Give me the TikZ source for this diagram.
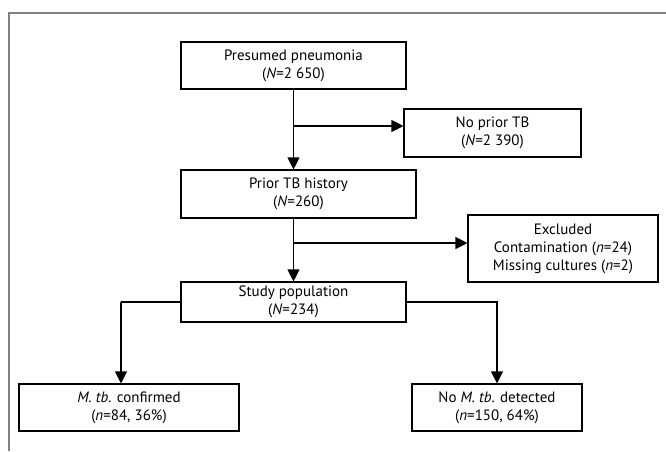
\documentclass[tikz,border=0pt]{standalone}
\usepackage{fontspec}
\setmainfont{PT Sans}
\usetikzlibrary{arrows.meta}

\begin{document}
\begin{tikzpicture}[
   x=1pt,y=-1pt,
   font=\fontsize{15}{18}\selectfont,
   box/.style={draw,line width=1.1pt,align=center,inner sep=0pt},
   link/.style={line width=1.1pt},
   arr/.style={link,-{Triangle[length=12pt,width=12pt]}}]
\useasboundingbox (0,0) rectangle (666,451);
\draw[gray,line width=1.6pt] (666,13) -- (9,13) -- (9,451);
% main column
\node[box,minimum width=225pt,minimum height=47pt] (pres) at (293.5,65.5)
   {Presumed pneumonia\\(\textit{N}=2 650)};
\node[box,minimum width=235pt,minimum height=48pt] (prior) at (298.5,194)
   {Prior TB history\\(\textit{N}=260)};
\node[box,minimum width=225pt,minimum height=40pt] (study) at (293.5,302)
   {Study population\\(\textit{N}=234)};
% side boxes
\node[box,minimum width=177pt,minimum height=48pt] (noprior) at (492.5,133)
   {No prior TB\\(\textit{N}=2 390)};
\node[box,minimum width=190pt,minimum height=67pt] (excl) at (563,248.5)
   {Excluded\\Contamination (\textit{n}=24)\\Missing cultures (\textit{n}=2)};
% outcomes
\node[box,minimum width=220pt,minimum height=47pt] (conf) at (129,407.5)
   {\textit{M. tb}. confirmed\\(\textit{n}=84, 36\%)};
\node[box,minimum width=170pt,minimum height=47pt] (nodet) at (497,407.5)
   {No \textit{M. tb}. detected\\(\textit{n}=150, 64\%)};
\coordinate (j1) at (293.5,126);
\coordinate (j2) at (293.5,243);
\coordinate (j3) at (121,302);
\draw[arr] (pres.south) -- (pres.south |- prior.north);
\draw[arr] (j1) -- (j1 -| noprior.west);
\draw[arr] (pres.south |- prior.south) -- (study.north);
\draw[arr] (j2) -- (j2 -| excl.west);
\draw[link] (study.west) -- (j3);
\draw[arr] (j3) -- (j3 |- conf.north);
\draw[arr] (study.east) -| (nodet.north);
\end{tikzpicture}
\end{document}
